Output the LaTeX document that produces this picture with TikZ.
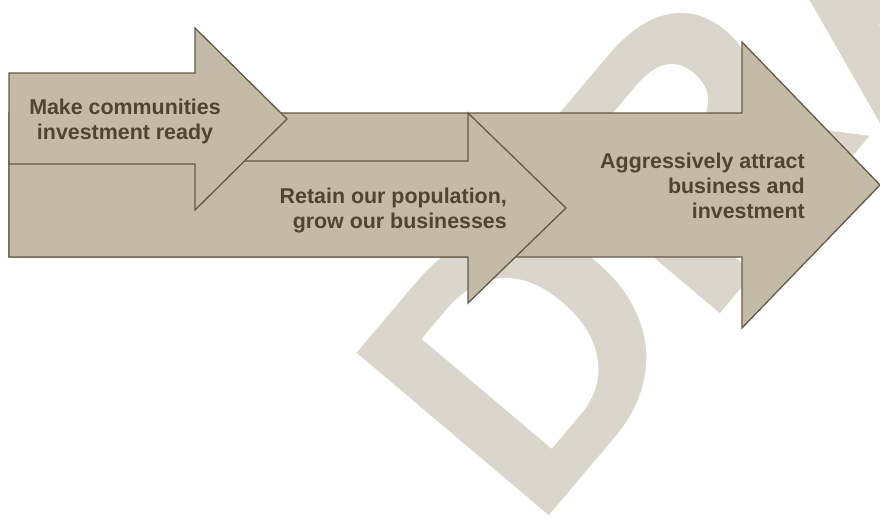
\documentclass[tikz,border=0pt]{standalone}
\usepackage{fontspec}
\setmainfont{Liberation Sans}
\usetikzlibrary{positioning}
\definecolor{arrowfill}{RGB}{195,186,168}
\definecolor{arrowline}{RGB}{100,90,70}
\definecolor{labeltext}{RGB}{79,70,48}
\definecolor{draftgray}{RGB}{218,214,204}
\tikzset{
	x=1pt, y=-1pt, % one unit per pixel, y runs downwards
	bigarrow/.style={fill=arrowfill, draw=arrowline, line width=1.3pt, line join=miter}, % the three block arrows
	steplabel/.style={font=\bfseries\fontsize{21.4}{25}\selectfont, text=labeltext, inner sep=0pt}, % text on the arrows
	watermark/.style={font=\bfseries\fontsize{366}{366}\selectfont, text=draftgray, inner sep=0pt, outer sep=0pt}, % big stamp behind
}
\begin{document}
\begin{tikzpicture}
	\useasboundingbox (0,0) rectangle (880,519);
	% stamp first, so the arrows cover it
	\begin{scope}
		\clip (0,0) rectangle (880,519);
		\node[watermark, rotate=49.8, anchor=base west] (draft) at (533.5,534) {DRAFT};
	\end{scope}
	% arrows, back to front
	\draw[bigarrow] (9,113) -- (742,113) -- (742,42) -- (880,185) -- (742,328) -- (742,257) -- (9,257) -- cycle;
	\draw[bigarrow] (9,161) -- (468,161) -- (468,113) -- (566,208) -- (468,303) -- (468,257) -- (9,257) -- cycle;
	\draw[bigarrow] (9,73) -- (195,73) -- (195,28) -- (287,119) -- (195,210) -- (195,164) -- (9,164) -- cycle;
	% labels
	\node[steplabel, align=center] (ready) at (125,121) {Make communities\\investment ready};
	\node[steplabel, align=right, anchor=east] (retain) at (507,210.5) {Retain our population,\\grow our businesses};
	\node[steplabel, align=right, anchor=east] (attract) at (805,186) {Aggressively attract\\business and\\investment};
\end{tikzpicture}
\end{document}
